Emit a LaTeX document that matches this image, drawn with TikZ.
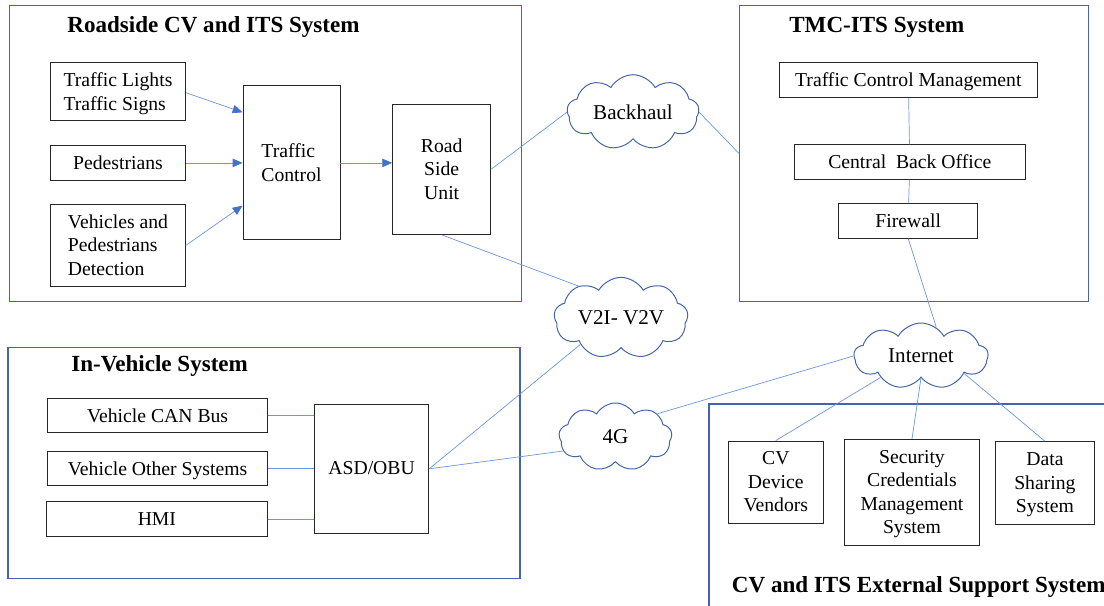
\documentclass[tikz,border=0pt]{standalone}
\usepackage{fontspec}
\setmainfont{Liberation Serif}
\usetikzlibrary{arrows.meta, shapes.symbols}
\definecolor{sysblue}{RGB}{68,100,170}
\definecolor{linkblue}{RGB}{110,150,220}
\definecolor{headblue}{RGB}{68,114,196}
\newdimen\px \px=0.025cm
\tikzset{
    x=\px, y=-\px, % one unit = one pixel of the layout
    sysbox/.style={draw=sysblue, line width=0.8pt, inner sep=0pt}, % system frames
    systitle/.style={font=\fontsize{16.4}{19}\selectfont\bfseries},
    unit/.style={draw=black!85, line width=0.7pt, fill=white, inner sep=0pt,
        align=center, text depth=0.5pt, font=\fontsize{14}{16.8}\selectfont},
    net/.style={cloud, cloud puffs=9, cloud puff arc=120, aspect=2,
        draw=sysblue, line width=0.7pt, fill=white, inner sep=0pt,
        font=\fontsize{15}{18}\selectfont},
    link/.style={draw=linkblue, line width=0.5pt},
    flow/.style={link, -{Triangle[length=7pt, width=6pt, color=headblue]}},
}
\begin{document}
\begin{tikzpicture}
    \clip (0,0) rectangle (1104,605);
    \fill[white] (0,0) rectangle (1104,605);

    % system frames
    \node[sysbox, minimum width=512.4\px, minimum height=295.6\px] (rs) at (265.5,153.5) {};
    \node[sysbox, minimum width=349\px, minimum height=295.6\px] (tmc) at (914.1,153.5) {};
    \node[sysbox, minimum width=512\px, minimum height=230.6\px] (iv) at (264,463) {};
    \node[sysbox, minimum width=451\px, minimum height=256\px] (ext) at (934.5,532) {};

    \node[systitle] (rstitle) at (213.5,27) {Roadside CV and ITS System};
    \node[systitle] (tmctitle) at (876.8,27) {TMC-ITS System};
    \node[systitle] (ivtitle) at (159.6,366) {In-Vehicle System};
    \node[systitle, anchor=west, inner sep=0pt] (exttitle) at (731.7,587) {CV and ITS External Support System};

    % roadside units
    \node[unit, align=left, minimum width=134.7\px, minimum height=58\px] (tl) at (118,91.7) {Traffic Lights\\Traffic Signs};
    \node[unit, minimum width=134.7\px, minimum height=34.3\px] (ped) at (118,162.9) {Pedestrians};
    \node[unit, align=left, minimum width=134.7\px, minimum height=81.3\px] (vpd) at (118,245.4) {Vehicles and\\Pedestrians\\Detection};
    \node[unit, align=left, minimum width=97\px, minimum height=154\px] (tc) at (291.5,162.7) {Traffic\\Control};
    \node[unit, minimum width=98.1\px, minimum height=130.3\px] (rsu) at (441.7,169.2) {Road\\Side\\Unit};

    % TMC units
    \node[unit, minimum width=258.5\px, minimum height=34.6\px] (tcm) at (908.3,80) {Traffic Control Management};
    \node[unit, minimum width=231.6\px, minimum height=34.3\px] (cbo) at (909.8,161.9) {Central~~Back Office};
    \node[unit, minimum width=139.2\px, minimum height=34.3\px] (fw) at (908.2,220.9) {Firewall};

    % in-vehicle units
    \node[unit, minimum width=219.3\px, minimum height=34\px] (can) at (157.6,415.7) {Vehicle CAN Bus};
    \node[unit, minimum width=219.3\px, minimum height=34\px] (vos) at (157.6,468.7) {Vehicle Other Systems};
    \node[unit, minimum width=220.7\px, minimum height=34.3\px] (hmi) at (156.9,518.9) {HMI};
    \node[unit, minimum width=114.3\px, minimum height=129\px] (obu) at (371.6,468.8) {ASD/OBU};

    % external support units
    \node[unit, minimum width=95.5\px, minimum height=82.3\px] (cvdv) at (775.8,482.2) {CV\\Device\\Vendors};
    \node[unit, minimum width=134.5\px, minimum height=106\px] (scms) at (912,492.3) {Security\\Credentials\\Management\\System};
    \node[unit, minimum width=98.2\px, minimum height=82.6\px] (dss) at (1044.9,483) {Data\\Sharing\\System};

    % networks
    \node[net, minimum width=132\px, minimum height=67\px] (bh) at (633,112.3) {Backhaul};
    \node[net, minimum width=134\px, minimum height=66\px] (v2x) at (621,318) {V2I- V2V};
    \node[net, minimum width=134\px, minimum height=66\px] (inet) at (921,356) {Internet};
    \node[net, minimum width=113\px, minimum height=68\px] (lte) at (615.4,437) {4G};

    % data flow into the roadside unit
    \draw[flow] (tl.east) ++(0,1) -- (tc.west |- 0,112.3);
    \draw[flow] (ped) -- (tc.west |- ped);
    \draw[flow] (vpd.east) -- (tc.west |- 0,205.7);
    \draw[flow] (tc.east |- ped) -- (rsu.west |- ped);

    % links
    \path[link]
        (rsu.east) edge (bh.west)
        (bh.east) edge (tmc.west)
        (rsu.south) edge (v2x.143)
        (tcm) edge (cbo)
        (cbo) edge (fw)
        (fw.south) edge (inet.62)
        (can) edge (obu.west |- can)
        (vos) edge (obu.west |- vos)
        (hmi) edge (obu.west |- hmi)
        (obu.east) edge (v2x.213)
        (obu.east) edge (lte.195)
        (lte.29) edge (inet.west)
        (inet.208) edge (cvdv.north)
        (inet.south) edge (scms.north)
        (inet.338) edge (dss.north);
\end{tikzpicture}
\end{document}
